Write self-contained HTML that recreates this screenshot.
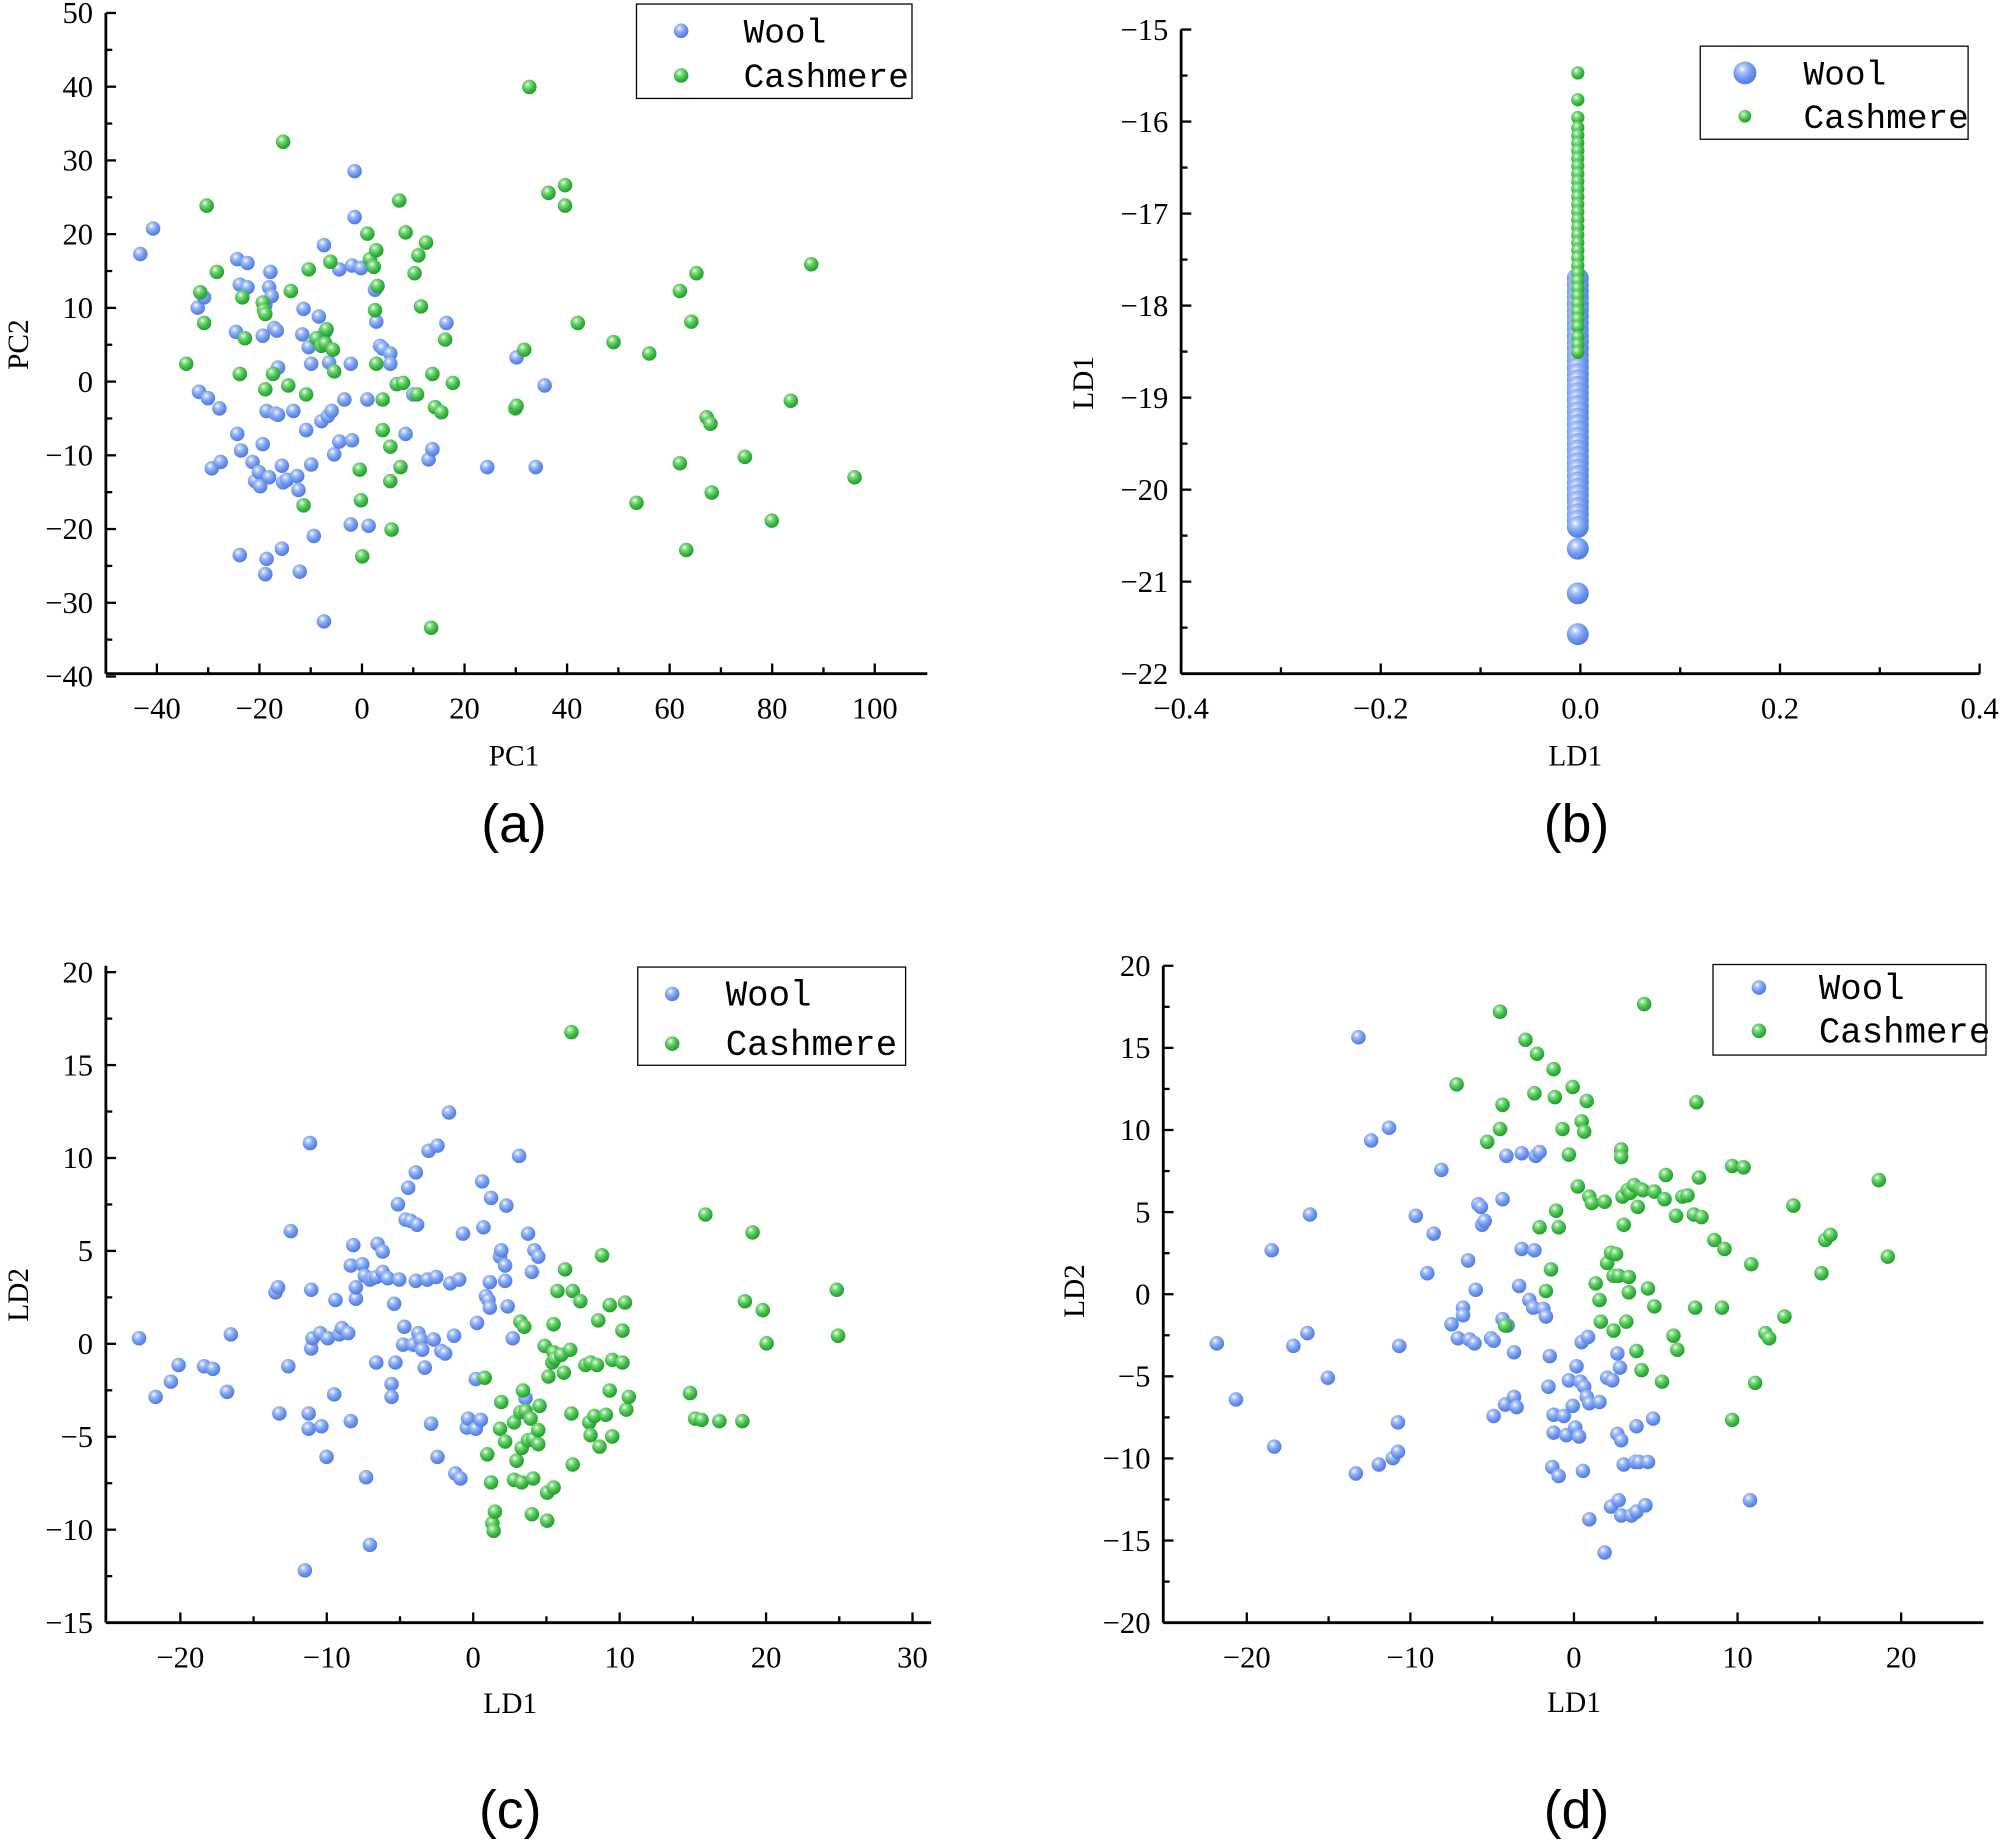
<!DOCTYPE html>
<html><head><meta charset="utf-8">
<style>
html,body{margin:0;padding:0;background:#fff;}
svg{display:block;}
text{font-family:"Liberation Serif",serif;fill:#000;}
.leg{font-family:"Liberation Mono",monospace;}
.lab{font-family:"Liberation Sans",sans-serif;}
</style></head>
<body>
<svg id="s" width="2000" height="1841" viewBox="0 0 1568 1443" xmlns="http://www.w3.org/2000/svg">
<defs>
<radialGradient id="gb" cx="0.38" cy="0.33" r="0.7">
<stop offset="0" stop-color="#ffffff"/><stop offset="0.25" stop-color="#a9c3fb"/><stop offset="0.6" stop-color="#6f98f0"/><stop offset="1" stop-color="#4f79d8"/>
</radialGradient>
<radialGradient id="gg" cx="0.38" cy="0.33" r="0.7">
<stop offset="0" stop-color="#ffffff"/><stop offset="0.25" stop-color="#86de86"/><stop offset="0.6" stop-color="#3fbe48"/><stop offset="1" stop-color="#26952e"/>
</radialGradient>
</defs>
<g id="g"></g>
</svg>
<script>
var NS="http://www.w3.org/2000/svg",G=document.getElementById('g');
function el(t,a,txt){var e=document.createElementNS(NS,t);for(var k in a)e.setAttribute(k,a[k]);if(txt!==undefined)e.textContent=txt;G.appendChild(e);return e;}
function line(x1,y1,x2,y2,w){el('line',{x1:x1,y1:y1,x2:x2,y2:y2,stroke:'#000','stroke-width':w||2.2});}
function dot(x,y,c,r){el('circle',{cx:x,cy:y,r:r||5.7,fill:'url(#g'+c+')'});}
function lbl(v){return (''+v).replace('-','\u2212');}
function axes(L,B,R,T,xt,xp,yt,yp,fmt){
 line(L,B,R,B);line(L,T,L,B);
 for(var i=0;i<xt.length;i++){var x=xp(xt[i]);line(x,B,x,B-8,1.8);
  el('text',{x:x,y:B+35,'font-size':24,'text-anchor':'middle'},fmt?fmt(xt[i]):lbl(xt[i]));
  if(i<xt.length-1){var m=(x+xp(xt[i+1]))/2;line(m,B,m,B-5,1.8);}}
 for(var i=0;i<yt.length;i++){var y=yp(yt[i]);line(L,y,L+8,y,1.8);
  el('text',{x:L-10,y:y+8,'font-size':24,'text-anchor':'end'},lbl(yt[i]));
  if(i<yt.length-1){var m=(y+yp(yt[i+1]))/2;line(L,m,L+5,m,1.8);}}
}
function legend(x,y,w,h,y1,y2,mx,tx,fs,r1,r2){
 el('rect',{x:x,y:y,width:w,height:h,fill:'#fff',stroke:'#000','stroke-width':1});
 dot(mx,y1,'b',r1);dot(mx,y2,'g',r2);
 el('text',{x:tx,y:y1+9,'font-size':fs,'class':'leg'},'Wool');
 el('text',{x:tx,y:y2+9,'font-size':fs,'class':'leg'},'Cashmere');
}
function pts(a,c,r){for(var i=0;i<a.length;i+=2)dot(a[i],a[i+1],c,r);}
// (a)
axes(83,528,727,10,[-40,-20,0,20,40,60,80,100],function(v){return 123+(v+40)/20*80.4},
 [50,40,30,20,10,0,-10,-20,-30,-40],function(v){return 10+(50-v)*5.78});
el('text',{x:403,y:600,'font-size':23,'text-anchor':'middle'},'PC1');
el('text',{x:22,y:270,'font-size':23,'text-anchor':'middle',transform:'rotate(-90 22 270)'},'PC2');
pts([110,199,120,179,155,241,160,233,156,307,163,312,166,367,172,320,173,362,186,203,188,223,185,260,186,340,189,353,188,435,194,225,194,206,198,362,200,377,203,370,204,381,206,348,206,263,208,239,208,450,209,438,209,322,211,374,211,225,212,213,213,232,215,257,216,324,217,259,218,288,218,325,221,430,221,365,222,378,225,376,230,322,233,373,234,384,235,448,238,242,237,262,240,337,242,272,244,364,244,285,246,420,250,248,251,270,252,330,254,192,254,487,255,260,257,326,258,284,260,322,262,356,266,346,266,211,270,313,275,285,275,411,276,208,278,170,278,134,283,210,276,345,289,412,288,313,294,227,295,252,298,271,300,273,306,277,306,285,318,340,324,309,336,360,339,352,350,253,382,366,405,280,420,366,427,302],'b');
pts([146,285,157,229,162,161,160,253,170,213,188,293,190,233,192,265,206,237,207,243,208,246,208,305,214,293,222,111,228,228,226,302,238,396,240,309,242,211,248,265,252,271,255,269,256,258,261,274,259,205,262,291,288,183,290,203,293,209,295,196,294,243,295,285,296,224,300,337,300,313,282,368,283,392,284,436,306,350,306,377,307,415,311,301,316,300,313,157,314,366,318,182,325,214,327,309,328,200,330,240,334,190,339,293,341,319,346,323,349,266,355,300,338,492,404,320,405,318,411,274,415,68,430,151,443,145,443,161,453,253,481,268,499,394,509,277,533,228,533,363,538,431,542,252,546,214,554,327,557,332,558,386,584,358,605,408,620,314,636,207,670,374],'g');
legend(499,3,216,74,24,59,534,583,27,5.7,5.7);
el('text',{x:403,y:660,'font-size':42,'text-anchor':'middle','class':'lab'},'(a)');
// (b)
axes(926,528,1552,23,[-0.4,-0.2,0,0.2,0.4],function(v){return 926+(v+0.4)/0.8*626},
 [-15,-16,-17,-18,-19,-20,-21,-22],function(v){return 23+(-15-v)*72.14},function(v){return lbl(v.toFixed(1))});
el('text',{x:1235,y:600,'font-size':23,'text-anchor':'middle'},'LD1');
el('text',{x:857,y:300,'font-size':23,'text-anchor':'middle',transform:'rotate(-90 857 300)'},'LD1');
var BX=1237;
for(var y=218;y<=415;y+=5)dot(BX,y,'b',8.6);
dot(BX,430,'b',8.6);dot(BX,465,'b',8.6);dot(BX,497,'b',8.6);
var gy=[57,78,92,100,106,112,118,124,130,136,142,148,154,160,166,172,178,184,190,196,202,208,214,220,226,232,238,244,250,256,264,270,276];
for(var i=0;i<gy.length;i++)dot(BX,gy[i],'g',5.2);
legend(1333,36,210,73,57,91,1368,1414,27,9,5);
el('text',{x:1236,y:660,'font-size':42,'text-anchor':'middle','class':'lab'},'(b)');
// (c)
axes(83,1272,730,757,[-20,-10,0,10,20,30],function(v){return 371+v*11.48},
 [20,15,10,5,0,-5,-10,-15],function(v){return 762+(20-v)*14.57});
el('text',{x:400,y:1343,'font-size':23,'text-anchor':'middle'},'LD1');
el('text',{x:22,y:1015,'font-size':23,'text-anchor':'middle',transform:'rotate(-90 22 1015)'},'LD2');
pts([109,1049,122,1095,134,1083,140,1070,160,1071,167,1073,178,1091,181,1046,219,1108,216,1013,218,1009,226,1071,228,965,239,1231,243,896,242,1108,242,1120,244,1057,244,1011,245,1049,251,1045,252,1118,256,1142,257,1049,262,1093,263,1019,266,1046,268,1041,273,1045,275,1114,275,992,277,976,279,1018,279,1009,284,991,286,1000,287,1158,290,1211,290,1003,292,1002,295,1068,295,1001,296,975,300,981,300,997,304,1002,307,1085,307,1095,309,1022,310,1068,312,944,313,1003,316,1054,317,1040,318,956,320,931,322,957,324,1054,326,1004,326,919,327,960,328,1045,330,1050,331,1058,333,1072,335,1003,336,902,338,1116,340,1050,342,1001,343,898,343,1142,346,1059,349,1061,352,872,353,1006,356,1047,357,1155,360,1003,361,1159,363,967,366,1119,367,1112,373,1081,373,1120,374,1037,377,1113,378,926,379,962,381,1016,383,1019,384,1025,384,1005,385,939,392,985,393,980,396,992,397,945,396,1004,398,1024,402,1049,407,906,412,1096,414,967,417,997,419,980,422,985],'b');
pts([448,809,380,1080,382,1140,385,1162,386,1194,387,1200,388,1185,392,1120,393,1099,396,1130,403,1115,403,1160,405,1145,408,1107,409,1135,409,1162,408,1036,410,1090,411,1040,412,1106,414,1129,416,1112,418,1128,417,1187,418,1159,422,1132,422,1121,423,1102,427,1055,429,1192,429,1170,430,1079,434,1166,433,1068,434,1060,434,1038,435,1065,437,1012,440,1062,442,1076,443,995,447,1058,448,1108,449,1148,449,1012,455,1020,459,1070,462,1115,463,1125,463,1068,466,1110,468,1070,469,1035,470,1134,472,984,475,1109,478,1090,478,1023,480,1066,480,1126,488,1043,490,1021,491,1105,493,1095,488,1068,541,1092,545,1112,550,1113,553,952,564,1114,582,1114,584,1020,590,966,598,1027,601,1053,656,1011,657,1047],'g');
legend(500,758,210,77,779,818,527,569,28,5.7,5.7);
el('text',{x:400,y:1433,'font-size':42,'text-anchor':'middle','class':'lab'},'(c)');
// (d)
axes(912,1272,1555,757,[-20,-10,0,10,20],function(v){return 1234+v*12.825},
 [20,15,10,5,0,-5,-10,-15,-20],function(v){return 757+(20-v)*12.875});
el('text',{x:1234,y:1342,'font-size':23,'text-anchor':'middle'},'LD1');
el('text',{x:850,y:1012,'font-size':23,'text-anchor':'middle',transform:'rotate(-90 850 1012)'},'LD2');
pts([954,1053,969,1097,997,980,999,1134,1014,1055,1025,1045,1027,952,1041,1080,1063,1155,1065,813,1075,894,1081,1148,1089,884,1092,1143,1096,1138,1096,1115,1097,1055,1110,953,1119,998,1124,967,1130,917,1138,1038,1143,1049,1147,1025,1147,1031,1151,988,1152,1050,1156,1053,1157,1011,1159,944,1161,946,1162,960,1164,957,1169,1049,1171,1110,1171,1051,1178,940,1178,1034,1180,1101,1181,906,1182,1039,1187,1060,1187,1095,1189,1103,1191,1008,1193,979,1193,904,1199,1019,1202,1025,1203,980,1204,906,1207,903,1210,1026,1212,1032,1214,1087,1215,1063,1217,1150,1218,1109,1218,1123,1222,1157,1226,1110,1228,1125,1230,1082,1233,1102,1235,1119,1236,1071,1238,1126,1239,1083,1240,1052,1241,1153,1242,1087,1244,1095,1245,1048,1246,1191,1246,1100,1254,1099,1258,1217,1260,1080,1263,1181,1264,1082,1268,1124,1268,1061,1269,1176,1270,1072,1271,1129,1271,1188,1273,1148,1279,1188,1282,1146,1283,1118,1283,1185,1285,1146,1290,1180,1292,1146,1296,1112,1372,1176],'b');
pts([1142,850,1166,895,1176,793,1176,885,1178,866,1180,1039,1196,815,1203,857,1205,826,1207,962,1212,1012,1216,995,1218,838,1219,860,1220,949,1222,962,1225,885,1230,905,1233,852,1237,930,1240,879,1242,887,1244,863,1246,938,1248,943,1251,1006,1254,1019,1255,1036,1258,942,1260,990,1263,982,1265,1043,1265,1000,1267,983,1269,1000,1271,901,1271,907,1272,938,1273,960,1275,1036,1276,933,1277,1001,1277,1013,1278,935,1281,929,1283,1059,1284,946,1286,932,1287,1074,1288,933,1289,787,1292,1010,1297,1024,1297,934,1303,1083,1305,940,1306,921,1312,1047,1314,953,1315,1058,1319,938,1323,937,1328,952,1329,1025,1330,864,1332,923,1334,954,1344,972,1350,1025,1352,979,1358,914,1358,1113,1367,915,1373,991,1376,1084,1384,1045,1387,1049,1399,1032,1406,945,1428,998,1431,972,1435,968,1473,925,1480,985],'g');
legend(1343,756,214,71,774,808,1379,1426,28,5.7,5.7);
el('text',{x:1236,y:1433,'font-size':42,'text-anchor':'middle','class':'lab'},'(d)');
</script>
</body></html>
